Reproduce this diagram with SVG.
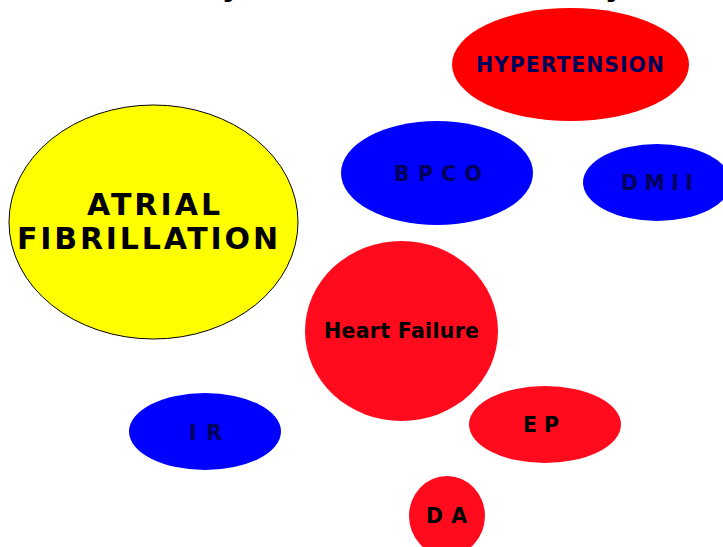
<svg xmlns="http://www.w3.org/2000/svg" width="723" height="547" viewBox="0 0 723 547">
<style>
  text { font-family: "DejaVu Sans", Verdana, sans-serif; font-weight: bold; text-anchor: start; }
  .lbl { font-size: 20.5px; }
  .navy { fill: #00005a; }
  .blk { fill: #000000; }
  .red1 { fill: #ff0000; }
  .red2 { fill: #ff0b1d; }
  .blue { fill: #0000ff; }
  .af { font-size: 30px; }
  .title { font-family: "Liberation Sans", Arial, sans-serif; font-size: 36px; font-style: italic; fill: #000; }
</style>
<rect width="723" height="547" fill="#ffffff"/>
<g id="title-fragment">
  <text class="title" x="226" y="-6">y</text>
  <text class="title" x="609" y="-6">y</text>
</g>
<g id="connectors"></g>
<g id="node-hypertension">
  <ellipse class="red1" cx="570.5" cy="64.5" rx="118.5" ry="56.5"/>
  <text class="lbl navy" x="476" y="72" textLength="188" lengthAdjust="spacing">HYPERTENSION</text>
</g>
<g id="node-bpco">
  <ellipse class="blue" cx="437" cy="173" rx="96" ry="52"/>
  <text class="lbl navy" x="394" y="181" textLength="88" lengthAdjust="spacing">B P C O</text>
</g>
<g id="node-dmii">
  <ellipse class="blue" cx="657" cy="182.5" rx="74" ry="38.5"/>
  <text class="lbl navy" x="621" y="190" textLength="72" lengthAdjust="spacing">D M I I</text>
</g>
<g id="node-af">
  <ellipse cx="153.5" cy="222" rx="144.5" ry="117" fill="#ffff00" stroke="#000000" stroke-width="1"/>
  <text class="blk af" x="87" y="215" textLength="133" lengthAdjust="spacing">ATRIAL</text>
  <text class="blk af" x="17" y="249" textLength="261" lengthAdjust="spacing">FIBRILLATION</text>
</g>
<g id="node-hf">
  <ellipse class="red2" cx="401.5" cy="331" rx="96.5" ry="90"/>
  <text class="lbl blk" x="324" y="338" textLength="155" lengthAdjust="spacing">Heart Failure</text>
</g>
<g id="node-ir">
  <ellipse class="blue" cx="205" cy="431.5" rx="76" ry="38.5"/>
  <text class="lbl navy" x="189" y="440" textLength="33" lengthAdjust="spacing">I R</text>
</g>
<g id="node-ep">
  <ellipse class="red2" cx="545" cy="424.5" rx="76" ry="38.5"/>
  <text class="lbl blk" x="523" y="432" textLength="36" lengthAdjust="spacing">E P</text>
</g>
<g id="node-da">
  <ellipse class="red2" cx="447" cy="516" rx="38" ry="40"/>
  <text class="lbl blk" x="426" y="523" textLength="41" lengthAdjust="spacing">D A</text>
</g>
</svg>
